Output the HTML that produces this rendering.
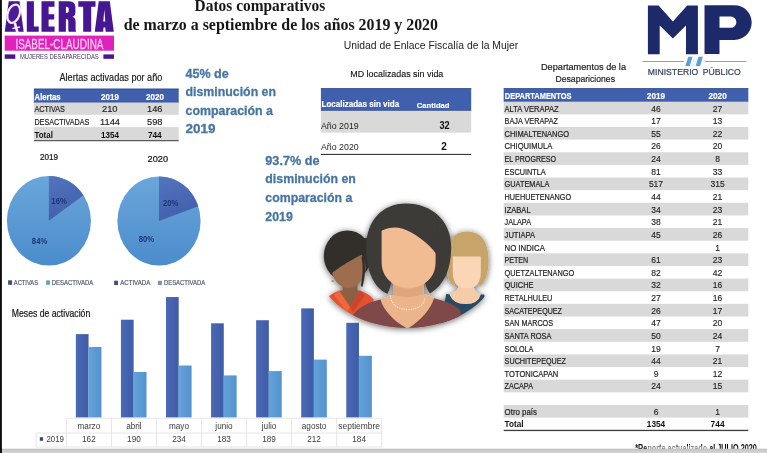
<!DOCTYPE html>
<html lang="es"><head><meta charset="utf-8"><title>Alerta Isabel-Claudina - Datos comparativos</title>
<style>
html,body{margin:0;padding:0;background:#fff;overflow:hidden}
body{width:767px;height:453px;font-family:"Liberation Sans",sans-serif}
svg{display:block;position:absolute;left:0;top:0}
text{white-space:pre}
</style></head><body>
<svg width="767" height="453" viewBox="0 0 767 453">
<defs>
<linearGradient id="gd" x1="0" y1="0" x2="1" y2="0"><stop offset="0" stop-color="#4B69B6"/><stop offset="1" stop-color="#3E5CA6"/></linearGradient>
<linearGradient id="gl" x1="0" y1="0" x2="1" y2="0"><stop offset="0" stop-color="#64A2DA"/><stop offset="1" stop-color="#5593CF"/></linearGradient>
<linearGradient id="pl" x1="0" y1="0" x2="0" y2="1"><stop offset="0" stop-color="#6BA6DA"/><stop offset="1" stop-color="#4B8CCC"/></linearGradient>
<clipPath id="wclip"><ellipse cx="407" cy="262.4" rx="91" ry="65.7"/></clipPath>
<filter id="ds" x="-15%" y="-15%" width="130%" height="135%"><feGaussianBlur in="SourceAlpha" stdDeviation="3.2" result="b"/><feOffset in="b" dx="0.3" dy="0.8" result="o"/><feComponentTransfer in="o" result="s"><feFuncA type="linear" slope="0.6"/></feComponentTransfer><feMerge><feMergeNode in="s"/><feMergeNode in="SourceGraphic"/></feMerge></filter>
<filter id="soft" x="-20" y="-20" width="807" height="493" filterUnits="userSpaceOnUse"><feGaussianBlur stdDeviation="0.45"/></filter>
<linearGradient id="pd" x1="0" y1="0" x2="0.3" y2="1"><stop offset="0" stop-color="#5474BD"/><stop offset="1" stop-color="#4260AD"/></linearGradient>
</defs>
<rect x="-10.00" y="-10.00" width="787.00" height="473.00" fill="#FFFFFF" />
<g filter="url(#soft)">
<g fill="#461593">
<path d="M8.7,1.2 H19.5 L23.7,31.8 H4.8 Z"/>
<path d="M26.8,1.2 H33.9 V26.6 H38.7 V31.8 H26.8 Z"/>
<path d="M41.5,1.2 H54.5 V6.8 H48.6 V14.3 H54.2 V19.5 H48.6 V26.6 H54.6 V31.8 H41.5 Z"/>
<path d="M58.7,1.2 H69 Q75.4,1.2 75.4,7.5 V12 Q75.4,16 72.5,16.8 Q75.6,17.8 75.6,22 V28.5 Q75.6,30.5 76,31.8 H68.6 Q68.3,30.5 68.3,28.5 V21.5 Q68.3,18.7 65.9,18.7 V31.8 H58.7 Z M65.9,6.7 V13.1 Q68.7,13.1 68.7,11 V8.8 Q68.7,6.7 65.9,6.7 Z" fill-rule="evenodd"/>
<path d="M78.3,1.2 H95.5 V6.8 H91.2 V31.8 H83.2 V6.8 H78.3 Z"/>
<path d="M98.7,1.2 H109.8 L113.8,31.8 H105.6 L105.3,27.4 H103.5 L103.2,31.8 H94.8 Z M103.3,21.4 H105.3 L104.3,9.5 Z" fill-rule="evenodd"/>
</g>
<g fill="none" stroke="#FBEAFB" stroke-linecap="butt"><ellipse cx="13.7" cy="13.7" rx="5.9" ry="9.5" stroke-width="2.2" fill="#4A1D9C" transform="rotate(20 13.7 13.7)"/><path d="M14.8,22.8 L17.4,32.3" stroke-width="2.6"/><path d="M12.4,28.6 L20,27" stroke-width="1.5"/></g>
<rect x="4.70" y="35.60" width="109.30" height="15.10" fill="#E024BA" />
<text x="15.40" y="48.80" font-size="14.4" fill="#FBC9F0" font-family="'Liberation Sans', sans-serif" textLength="88.00" lengthAdjust="spacingAndGlyphs" stroke="#FBC9F0" stroke-width="0.3">ISABEL-CLAUDINA</text>
<rect x="4.70" y="54.40" width="10.60" height="4.40" fill="#461593" />
<rect x="103.40" y="54.40" width="10.60" height="4.40" fill="#461593" />
<text x="20.00" y="58.80" font-size="7.0" fill="#3E3360" font-family="'Liberation Sans', sans-serif" textLength="78.70" lengthAdjust="spacingAndGlyphs">MUJERES DESAPARECIDAS</text>
<text x="194.60" y="10.70" font-size="15.8" fill="#161616" font-family="'Liberation Serif', serif" font-weight="bold" textLength="130.60" lengthAdjust="spacingAndGlyphs">Datos comparativos</text>
<text x="123.70" y="29.50" font-size="16" fill="#161616" font-family="'Liberation Serif', serif" font-weight="bold" textLength="314.30" lengthAdjust="spacingAndGlyphs">de marzo a septiembre de los años 2019 y 2020</text>
<text x="343.70" y="49.30" font-size="11.4" fill="#222" font-family="'Liberation Sans', sans-serif" textLength="174.60" lengthAdjust="spacingAndGlyphs">Unidad de Enlace Fiscalía de la Mujer</text>
<g fill="#1F2A6B">
<path d="M647.9,5.4 H658.6 L672.9,21.5 L687.2,5.4 H697.9 V54.3 H686 V25.5 L672.9,38.6 L659.7,25.5 V54.3 H647.9 Z"/>
<path d="M704.5,5.3 H734.4 A17.3,17.3 0 0 1 734.4,39.9 H719.5 V53.9 H704.5 Z M719.5,16.6 V27.8 H730.8 A5.6,5.6 0 0 0 730.8,16.6 Z" fill-rule="evenodd"/>
</g>
<path d="M642.3,61.5 H684 M704.8,61.5 H746.3" stroke="#86A6C8" stroke-width="1.0" fill="none"/>
<path d="M688.3,56.7 H692.6 L689.8,66 H685.4 Z" fill="#5A9FD8"/>
<path d="M693.6,56.7 H697.4 L694.6,66 H690.8 Z" fill="#EEF5FB"/>
<path d="M698.5,56.7 H702.9 L700.1,66 H695.7 Z" fill="#5A9FD8"/>
<text x="647.80" y="74.80" font-size="8.8" fill="#333D5E" font-family="'Liberation Sans', sans-serif" textLength="50.50" lengthAdjust="spacingAndGlyphs" stroke="#333D5E" stroke-width="0.2">MINISTERIO</text>
<text x="702.80" y="74.80" font-size="8.8" fill="#333D5E" font-family="'Liberation Sans', sans-serif" textLength="38.00" lengthAdjust="spacingAndGlyphs" stroke="#333D5E" stroke-width="0.2">PÚBLICO</text>
<text x="59.50" y="80.60" font-size="10.1" fill="#151515" font-family="'Liberation Sans', sans-serif" textLength="102.80" lengthAdjust="spacingAndGlyphs" stroke="#151515" stroke-width="0.15">Alertas activadas por año</text>
<rect x="33.90" y="88.70" width="144.80" height="13.90" fill="#4161AE" />
<rect x="33.90" y="88.70" width="144.80" height="0.80" fill="#33498A" />
<rect x="33.90" y="101.80" width="144.80" height="0.80" fill="#33498A" />
<text x="34.60" y="99.60" font-size="8.9" fill="#FFFFFF" font-family="'Liberation Sans', sans-serif" font-weight="bold" textLength="26.00" lengthAdjust="spacingAndGlyphs" stroke="#fff" stroke-width="0.25">Alertas</text>
<text x="110.00" y="99.60" font-size="8.9" fill="#FFFFFF" font-family="'Liberation Sans', sans-serif" font-weight="bold" text-anchor="middle" textLength="17.80" lengthAdjust="spacingAndGlyphs" stroke="#fff" stroke-width="0.2">2019</text>
<text x="155.00" y="99.60" font-size="8.9" fill="#FFFFFF" font-family="'Liberation Sans', sans-serif" font-weight="bold" text-anchor="middle" textLength="17.80" lengthAdjust="spacingAndGlyphs" stroke="#fff" stroke-width="0.2">2020</text>
<rect x="33.90" y="102.60" width="144.80" height="12.20" fill="#D9D9D9" />
<rect x="33.90" y="127.10" width="144.80" height="13.30" fill="#D9D9D9" />
<rect x="33.90" y="140.20" width="144.80" height="1.00" fill="#3A3A3A" />
<text x="34.40" y="112.30" font-size="9.4" fill="#1E1E1E" font-family="'Liberation Sans', sans-serif" textLength="30.50" lengthAdjust="spacingAndGlyphs" stroke="#1E1E1E" stroke-width="0.2">ACTIVAS</text>
<text x="109.80" y="112.30" font-size="9.3" fill="#1E1E1E" font-family="'Liberation Sans', sans-serif" text-anchor="middle" stroke="#1E1E1E" stroke-width="0.15">210</text>
<text x="154.80" y="112.30" font-size="9.3" fill="#1E1E1E" font-family="'Liberation Sans', sans-serif" text-anchor="middle" stroke="#1E1E1E" stroke-width="0.15">146</text>
<text x="34.40" y="124.90" font-size="9.4" fill="#1E1E1E" font-family="'Liberation Sans', sans-serif" textLength="55.00" lengthAdjust="spacingAndGlyphs" stroke="#1E1E1E" stroke-width="0.2">DESACTIVADAS</text>
<text x="110.00" y="124.90" font-size="9.3" fill="#1E1E1E" font-family="'Liberation Sans', sans-serif" text-anchor="middle" stroke="#1E1E1E" stroke-width="0.15">1144</text>
<text x="154.80" y="124.90" font-size="9.3" fill="#1E1E1E" font-family="'Liberation Sans', sans-serif" text-anchor="middle" stroke="#1E1E1E" stroke-width="0.15">598</text>
<text x="34.40" y="138.20" font-size="8.9" fill="#111" font-family="'Liberation Sans', sans-serif" font-weight="bold" textLength="18.50" lengthAdjust="spacingAndGlyphs">Total</text>
<text x="110.00" y="138.20" font-size="8.9" fill="#111" font-family="'Liberation Sans', sans-serif" font-weight="bold" text-anchor="middle" textLength="18.00" lengthAdjust="spacingAndGlyphs">1354</text>
<text x="154.80" y="138.20" font-size="8.9" fill="#111" font-family="'Liberation Sans', sans-serif" font-weight="bold" text-anchor="middle" textLength="13.80" lengthAdjust="spacingAndGlyphs">744</text>
<text x="185.50" y="77.70" font-size="13.2" fill="#4775A3" font-family="'Liberation Sans', sans-serif" font-weight="bold" textLength="43.20" lengthAdjust="spacingAndGlyphs" stroke="#4775A3" stroke-width="0.3">45% de</text>
<text x="185.50" y="96.15" font-size="13.2" fill="#4775A3" font-family="'Liberation Sans', sans-serif" font-weight="bold" textLength="90.50" lengthAdjust="spacingAndGlyphs" stroke="#4775A3" stroke-width="0.3">disminución en</text>
<text x="185.50" y="114.60" font-size="13.2" fill="#4775A3" font-family="'Liberation Sans', sans-serif" font-weight="bold" textLength="87.50" lengthAdjust="spacingAndGlyphs" stroke="#4775A3" stroke-width="0.3">comparación a</text>
<text x="185.50" y="133.05" font-size="13.2" fill="#4775A3" font-family="'Liberation Sans', sans-serif" font-weight="bold" textLength="30.00" lengthAdjust="spacingAndGlyphs" stroke="#4775A3" stroke-width="0.3">2019</text>
<text x="265.30" y="164.90" font-size="13.2" fill="#4775A3" font-family="'Liberation Sans', sans-serif" font-weight="bold" textLength="54.30" lengthAdjust="spacingAndGlyphs" stroke="#4775A3" stroke-width="0.3">93.7% de</text>
<text x="265.30" y="183.45" font-size="13.2" fill="#4775A3" font-family="'Liberation Sans', sans-serif" font-weight="bold" textLength="90.60" lengthAdjust="spacingAndGlyphs" stroke="#4775A3" stroke-width="0.3">disminución en</text>
<text x="265.30" y="202.00" font-size="13.2" fill="#4775A3" font-family="'Liberation Sans', sans-serif" font-weight="bold" textLength="87.10" lengthAdjust="spacingAndGlyphs" stroke="#4775A3" stroke-width="0.3">comparación a</text>
<text x="265.30" y="220.55" font-size="13.2" fill="#4775A3" font-family="'Liberation Sans', sans-serif" font-weight="bold" textLength="27.50" lengthAdjust="spacingAndGlyphs" stroke="#4775A3" stroke-width="0.3">2019</text>
<text x="350.30" y="76.50" font-size="9.7" fill="#151515" font-family="'Liberation Sans', sans-serif" textLength="93.00" lengthAdjust="spacingAndGlyphs" stroke="#151515" stroke-width="0.15">MD localizadas sin vida</text>
<rect x="320.90" y="88.30" width="150.30" height="22.50" fill="#4161AE" />
<rect x="320.90" y="88.30" width="150.30" height="0.80" fill="#33498A" />
<rect x="320.90" y="110.10" width="150.30" height="0.80" fill="#33498A" />
<rect x="320.90" y="110.80" width="150.30" height="21.80" fill="#D9D9D9" />
<rect x="320.90" y="153.90" width="150.30" height="1.00" fill="#222" />
<text x="321.50" y="107.10" font-size="9.5" fill="#FFFFFF" font-family="'Liberation Sans', sans-serif" font-weight="bold" textLength="77.70" lengthAdjust="spacingAndGlyphs" stroke="#fff" stroke-width="0.2">Localizadas sin vida</text>
<text x="416.80" y="107.50" font-size="7.8" fill="#FFFFFF" font-family="'Liberation Sans', sans-serif" font-weight="bold" textLength="32.70" lengthAdjust="spacingAndGlyphs" stroke="#fff" stroke-width="0.15">Cantidad</text>
<text x="321.00" y="128.80" font-size="9" fill="#262626" font-family="'Liberation Sans', sans-serif" textLength="37.70" lengthAdjust="spacingAndGlyphs">Año 2019</text>
<text x="321.00" y="150.10" font-size="9" fill="#262626" font-family="'Liberation Sans', sans-serif" textLength="37.70" lengthAdjust="spacingAndGlyphs">Año 2020</text>
<text x="444.60" y="129.10" font-size="10" fill="#111" font-family="'Liberation Sans', sans-serif" font-weight="bold" text-anchor="middle" textLength="10.20" lengthAdjust="spacingAndGlyphs">32</text>
<text x="444.00" y="150.40" font-size="10" fill="#111" font-family="'Liberation Sans', sans-serif" font-weight="bold" text-anchor="middle">2</text>
<text x="541.00" y="70.00" font-size="9.6" fill="#1C1C1C" font-family="'Liberation Sans', sans-serif" textLength="85.00" lengthAdjust="spacingAndGlyphs" stroke="#1C1C1C" stroke-width="0.2">Departamentos de la</text>
<text x="555.50" y="82.00" font-size="9.6" fill="#1C1C1C" font-family="'Liberation Sans', sans-serif" textLength="59.50" lengthAdjust="spacingAndGlyphs" stroke="#1C1C1C" stroke-width="0.2">Desapariciones</text>
<rect x="503.70" y="88.30" width="244.60" height="13.30" fill="#4161AE" />
<rect x="503.70" y="88.30" width="244.60" height="0.80" fill="#33498A" />
<rect x="503.70" y="100.90" width="244.60" height="0.80" fill="#33498A" />
<text x="504.80" y="99.10" font-size="8.9" fill="#FFFFFF" font-family="'Liberation Sans', sans-serif" font-weight="bold" textLength="66.60" lengthAdjust="spacingAndGlyphs" stroke="#fff" stroke-width="0.2">DEPARTAMENTOS</text>
<text x="656.00" y="99.20" font-size="9" fill="#FFFFFF" font-family="'Liberation Sans', sans-serif" font-weight="bold" text-anchor="middle" textLength="18.30" lengthAdjust="spacingAndGlyphs" stroke="#fff" stroke-width="0.2">2019</text>
<text x="717.60" y="99.20" font-size="9" fill="#FFFFFF" font-family="'Liberation Sans', sans-serif" font-weight="bold" text-anchor="middle" textLength="18.30" lengthAdjust="spacingAndGlyphs" stroke="#fff" stroke-width="0.2">2020</text>
<rect x="503.70" y="101.70" width="244.60" height="12.64" fill="#D9D9D9" />
<rect x="503.70" y="126.97" width="244.60" height="12.64" fill="#D9D9D9" />
<rect x="503.70" y="152.24" width="244.60" height="12.64" fill="#D9D9D9" />
<rect x="503.70" y="177.52" width="244.60" height="12.64" fill="#D9D9D9" />
<rect x="503.70" y="202.79" width="244.60" height="12.64" fill="#D9D9D9" />
<rect x="503.70" y="228.06" width="244.60" height="12.64" fill="#D9D9D9" />
<rect x="503.70" y="253.33" width="244.60" height="12.64" fill="#D9D9D9" />
<rect x="503.70" y="278.60" width="244.60" height="12.64" fill="#D9D9D9" />
<rect x="503.70" y="303.88" width="244.60" height="12.64" fill="#D9D9D9" />
<rect x="503.70" y="329.15" width="244.60" height="12.64" fill="#D9D9D9" />
<rect x="503.70" y="354.42" width="244.60" height="12.64" fill="#D9D9D9" />
<rect x="503.70" y="379.69" width="244.60" height="12.64" fill="#D9D9D9" />
<rect x="503.70" y="404.96" width="244.60" height="12.64" fill="#D9D9D9" />
<text x="504.60" y="111.50" font-size="9.5" fill="#1E1E1E" font-family="'Liberation Sans', sans-serif" textLength="54.01" lengthAdjust="spacingAndGlyphs" stroke="#1E1E1E" stroke-width="0.22">ALTA VERAPAZ</text>
<text x="656.00" y="111.50" font-size="9.3" fill="#1E1E1E" font-family="'Liberation Sans', sans-serif" text-anchor="middle" textLength="9.50" lengthAdjust="spacingAndGlyphs" stroke="#1E1E1E" stroke-width="0.15">46</text>
<text x="717.60" y="111.50" font-size="9.3" fill="#1E1E1E" font-family="'Liberation Sans', sans-serif" text-anchor="middle" textLength="9.50" lengthAdjust="spacingAndGlyphs" stroke="#1E1E1E" stroke-width="0.15">27</text>
<text x="504.60" y="124.14" font-size="9.5" fill="#1E1E1E" font-family="'Liberation Sans', sans-serif" textLength="53.39" lengthAdjust="spacingAndGlyphs" stroke="#1E1E1E" stroke-width="0.22">BAJA VERAPAZ</text>
<text x="656.00" y="124.14" font-size="9.3" fill="#1E1E1E" font-family="'Liberation Sans', sans-serif" text-anchor="middle" textLength="9.50" lengthAdjust="spacingAndGlyphs" stroke="#1E1E1E" stroke-width="0.15">17</text>
<text x="717.60" y="124.14" font-size="9.3" fill="#1E1E1E" font-family="'Liberation Sans', sans-serif" text-anchor="middle" textLength="9.50" lengthAdjust="spacingAndGlyphs" stroke="#1E1E1E" stroke-width="0.15">13</text>
<text x="504.60" y="136.77" font-size="9.5" fill="#1E1E1E" font-family="'Liberation Sans', sans-serif" textLength="64.41" lengthAdjust="spacingAndGlyphs" stroke="#1E1E1E" stroke-width="0.22">CHIMALTENANGO</text>
<text x="656.00" y="136.77" font-size="9.3" fill="#1E1E1E" font-family="'Liberation Sans', sans-serif" text-anchor="middle" textLength="9.50" lengthAdjust="spacingAndGlyphs" stroke="#1E1E1E" stroke-width="0.15">55</text>
<text x="717.60" y="136.77" font-size="9.3" fill="#1E1E1E" font-family="'Liberation Sans', sans-serif" text-anchor="middle" textLength="9.50" lengthAdjust="spacingAndGlyphs" stroke="#1E1E1E" stroke-width="0.15">22</text>
<text x="504.60" y="149.41" font-size="9.5" fill="#1E1E1E" font-family="'Liberation Sans', sans-serif" textLength="47.76" lengthAdjust="spacingAndGlyphs" stroke="#1E1E1E" stroke-width="0.22">CHIQUIMULA</text>
<text x="656.00" y="149.41" font-size="9.3" fill="#1E1E1E" font-family="'Liberation Sans', sans-serif" text-anchor="middle" textLength="9.50" lengthAdjust="spacingAndGlyphs" stroke="#1E1E1E" stroke-width="0.15">26</text>
<text x="717.60" y="149.41" font-size="9.3" fill="#1E1E1E" font-family="'Liberation Sans', sans-serif" text-anchor="middle" textLength="9.50" lengthAdjust="spacingAndGlyphs" stroke="#1E1E1E" stroke-width="0.15">20</text>
<text x="504.60" y="162.04" font-size="9.5" fill="#1E1E1E" font-family="'Liberation Sans', sans-serif" textLength="51.44" lengthAdjust="spacingAndGlyphs" stroke="#1E1E1E" stroke-width="0.22">EL PROGRESO</text>
<text x="656.00" y="162.04" font-size="9.3" fill="#1E1E1E" font-family="'Liberation Sans', sans-serif" text-anchor="middle" textLength="9.50" lengthAdjust="spacingAndGlyphs" stroke="#1E1E1E" stroke-width="0.15">24</text>
<text x="717.60" y="162.04" font-size="9.3" fill="#1E1E1E" font-family="'Liberation Sans', sans-serif" text-anchor="middle" textLength="4.75" lengthAdjust="spacingAndGlyphs" stroke="#1E1E1E" stroke-width="0.15">8</text>
<text x="504.60" y="174.68" font-size="9.5" fill="#1E1E1E" font-family="'Liberation Sans', sans-serif" textLength="41.18" lengthAdjust="spacingAndGlyphs" stroke="#1E1E1E" stroke-width="0.22">ESCUINTLA</text>
<text x="656.00" y="174.68" font-size="9.3" fill="#1E1E1E" font-family="'Liberation Sans', sans-serif" text-anchor="middle" textLength="9.50" lengthAdjust="spacingAndGlyphs" stroke="#1E1E1E" stroke-width="0.15">81</text>
<text x="717.60" y="174.68" font-size="9.3" fill="#1E1E1E" font-family="'Liberation Sans', sans-serif" text-anchor="middle" textLength="9.50" lengthAdjust="spacingAndGlyphs" stroke="#1E1E1E" stroke-width="0.15">33</text>
<text x="504.60" y="187.32" font-size="9.5" fill="#1E1E1E" font-family="'Liberation Sans', sans-serif" textLength="44.74" lengthAdjust="spacingAndGlyphs" stroke="#1E1E1E" stroke-width="0.22">GUATEMALA</text>
<text x="656.00" y="187.32" font-size="9.3" fill="#1E1E1E" font-family="'Liberation Sans', sans-serif" text-anchor="middle" textLength="14.25" lengthAdjust="spacingAndGlyphs" stroke="#1E1E1E" stroke-width="0.15">517</text>
<text x="717.60" y="187.32" font-size="9.3" fill="#1E1E1E" font-family="'Liberation Sans', sans-serif" text-anchor="middle" textLength="14.25" lengthAdjust="spacingAndGlyphs" stroke="#1E1E1E" stroke-width="0.15">315</text>
<text x="504.60" y="199.95" font-size="9.5" fill="#1E1E1E" font-family="'Liberation Sans', sans-serif" textLength="66.56" lengthAdjust="spacingAndGlyphs" stroke="#1E1E1E" stroke-width="0.22">HUEHUETENANGO</text>
<text x="656.00" y="199.95" font-size="9.3" fill="#1E1E1E" font-family="'Liberation Sans', sans-serif" text-anchor="middle" textLength="9.50" lengthAdjust="spacingAndGlyphs" stroke="#1E1E1E" stroke-width="0.15">44</text>
<text x="717.60" y="199.95" font-size="9.3" fill="#1E1E1E" font-family="'Liberation Sans', sans-serif" text-anchor="middle" textLength="9.50" lengthAdjust="spacingAndGlyphs" stroke="#1E1E1E" stroke-width="0.15">21</text>
<text x="504.60" y="212.59" font-size="9.5" fill="#1E1E1E" font-family="'Liberation Sans', sans-serif" textLength="26.01" lengthAdjust="spacingAndGlyphs" stroke="#1E1E1E" stroke-width="0.22">IZABAL</text>
<text x="656.00" y="212.59" font-size="9.3" fill="#1E1E1E" font-family="'Liberation Sans', sans-serif" text-anchor="middle" textLength="9.50" lengthAdjust="spacingAndGlyphs" stroke="#1E1E1E" stroke-width="0.15">34</text>
<text x="717.60" y="212.59" font-size="9.3" fill="#1E1E1E" font-family="'Liberation Sans', sans-serif" text-anchor="middle" textLength="9.50" lengthAdjust="spacingAndGlyphs" stroke="#1E1E1E" stroke-width="0.15">23</text>
<text x="504.60" y="225.22" font-size="9.5" fill="#1E1E1E" font-family="'Liberation Sans', sans-serif" textLength="26.39" lengthAdjust="spacingAndGlyphs" stroke="#1E1E1E" stroke-width="0.22">JALAPA</text>
<text x="656.00" y="225.22" font-size="9.3" fill="#1E1E1E" font-family="'Liberation Sans', sans-serif" text-anchor="middle" textLength="9.50" lengthAdjust="spacingAndGlyphs" stroke="#1E1E1E" stroke-width="0.15">38</text>
<text x="717.60" y="225.22" font-size="9.3" fill="#1E1E1E" font-family="'Liberation Sans', sans-serif" text-anchor="middle" textLength="9.50" lengthAdjust="spacingAndGlyphs" stroke="#1E1E1E" stroke-width="0.15">21</text>
<text x="504.60" y="237.86" font-size="9.5" fill="#1E1E1E" font-family="'Liberation Sans', sans-serif" textLength="30.55" lengthAdjust="spacingAndGlyphs" stroke="#1E1E1E" stroke-width="0.22">JUTIAPA</text>
<text x="656.00" y="237.86" font-size="9.3" fill="#1E1E1E" font-family="'Liberation Sans', sans-serif" text-anchor="middle" textLength="9.50" lengthAdjust="spacingAndGlyphs" stroke="#1E1E1E" stroke-width="0.15">45</text>
<text x="717.60" y="237.86" font-size="9.3" fill="#1E1E1E" font-family="'Liberation Sans', sans-serif" text-anchor="middle" textLength="9.50" lengthAdjust="spacingAndGlyphs" stroke="#1E1E1E" stroke-width="0.15">26</text>
<text x="504.60" y="250.50" font-size="9.5" fill="#1E1E1E" font-family="'Liberation Sans', sans-serif" textLength="40.24" lengthAdjust="spacingAndGlyphs" stroke="#1E1E1E" stroke-width="0.22">NO INDICA</text>
<text x="717.60" y="250.50" font-size="9.3" fill="#1E1E1E" font-family="'Liberation Sans', sans-serif" text-anchor="middle" textLength="4.75" lengthAdjust="spacingAndGlyphs" stroke="#1E1E1E" stroke-width="0.15">1</text>
<text x="504.60" y="263.13" font-size="9.5" fill="#1E1E1E" font-family="'Liberation Sans', sans-serif" textLength="23.63" lengthAdjust="spacingAndGlyphs" stroke="#1E1E1E" stroke-width="0.22">PETEN</text>
<text x="656.00" y="263.13" font-size="9.3" fill="#1E1E1E" font-family="'Liberation Sans', sans-serif" text-anchor="middle" textLength="9.50" lengthAdjust="spacingAndGlyphs" stroke="#1E1E1E" stroke-width="0.15">61</text>
<text x="717.60" y="263.13" font-size="9.3" fill="#1E1E1E" font-family="'Liberation Sans', sans-serif" text-anchor="middle" textLength="9.50" lengthAdjust="spacingAndGlyphs" stroke="#1E1E1E" stroke-width="0.15">23</text>
<text x="504.60" y="275.77" font-size="9.5" fill="#1E1E1E" font-family="'Liberation Sans', sans-serif" textLength="69.65" lengthAdjust="spacingAndGlyphs" stroke="#1E1E1E" stroke-width="0.22">QUETZALTENANGO</text>
<text x="656.00" y="275.77" font-size="9.3" fill="#1E1E1E" font-family="'Liberation Sans', sans-serif" text-anchor="middle" textLength="9.50" lengthAdjust="spacingAndGlyphs" stroke="#1E1E1E" stroke-width="0.15">82</text>
<text x="717.60" y="275.77" font-size="9.3" fill="#1E1E1E" font-family="'Liberation Sans', sans-serif" text-anchor="middle" textLength="9.50" lengthAdjust="spacingAndGlyphs" stroke="#1E1E1E" stroke-width="0.15">42</text>
<text x="504.60" y="288.40" font-size="9.5" fill="#1E1E1E" font-family="'Liberation Sans', sans-serif" textLength="28.88" lengthAdjust="spacingAndGlyphs" stroke="#1E1E1E" stroke-width="0.22">QUICHE</text>
<text x="656.00" y="288.40" font-size="9.3" fill="#1E1E1E" font-family="'Liberation Sans', sans-serif" text-anchor="middle" textLength="9.50" lengthAdjust="spacingAndGlyphs" stroke="#1E1E1E" stroke-width="0.15">32</text>
<text x="717.60" y="288.40" font-size="9.3" fill="#1E1E1E" font-family="'Liberation Sans', sans-serif" text-anchor="middle" textLength="9.50" lengthAdjust="spacingAndGlyphs" stroke="#1E1E1E" stroke-width="0.15">16</text>
<text x="504.60" y="301.04" font-size="9.5" fill="#1E1E1E" font-family="'Liberation Sans', sans-serif" textLength="47.75" lengthAdjust="spacingAndGlyphs" stroke="#1E1E1E" stroke-width="0.22">RETALHULEU</text>
<text x="656.00" y="301.04" font-size="9.3" fill="#1E1E1E" font-family="'Liberation Sans', sans-serif" text-anchor="middle" textLength="9.50" lengthAdjust="spacingAndGlyphs" stroke="#1E1E1E" stroke-width="0.15">27</text>
<text x="717.60" y="301.04" font-size="9.3" fill="#1E1E1E" font-family="'Liberation Sans', sans-serif" text-anchor="middle" textLength="9.50" lengthAdjust="spacingAndGlyphs" stroke="#1E1E1E" stroke-width="0.15">16</text>
<text x="504.60" y="313.68" font-size="9.5" fill="#1E1E1E" font-family="'Liberation Sans', sans-serif" textLength="57.36" lengthAdjust="spacingAndGlyphs" stroke="#1E1E1E" stroke-width="0.22">SACATEPEQUEZ</text>
<text x="656.00" y="313.68" font-size="9.3" fill="#1E1E1E" font-family="'Liberation Sans', sans-serif" text-anchor="middle" textLength="9.50" lengthAdjust="spacingAndGlyphs" stroke="#1E1E1E" stroke-width="0.15">26</text>
<text x="717.60" y="313.68" font-size="9.3" fill="#1E1E1E" font-family="'Liberation Sans', sans-serif" text-anchor="middle" textLength="9.50" lengthAdjust="spacingAndGlyphs" stroke="#1E1E1E" stroke-width="0.15">17</text>
<text x="504.60" y="326.31" font-size="9.5" fill="#1E1E1E" font-family="'Liberation Sans', sans-serif" textLength="48.44" lengthAdjust="spacingAndGlyphs" stroke="#1E1E1E" stroke-width="0.22">SAN MARCOS</text>
<text x="656.00" y="326.31" font-size="9.3" fill="#1E1E1E" font-family="'Liberation Sans', sans-serif" text-anchor="middle" textLength="9.50" lengthAdjust="spacingAndGlyphs" stroke="#1E1E1E" stroke-width="0.15">47</text>
<text x="717.60" y="326.31" font-size="9.3" fill="#1E1E1E" font-family="'Liberation Sans', sans-serif" text-anchor="middle" textLength="9.50" lengthAdjust="spacingAndGlyphs" stroke="#1E1E1E" stroke-width="0.15">20</text>
<text x="504.60" y="338.95" font-size="9.5" fill="#1E1E1E" font-family="'Liberation Sans', sans-serif" textLength="46.92" lengthAdjust="spacingAndGlyphs" stroke="#1E1E1E" stroke-width="0.22">SANTA ROSA</text>
<text x="656.00" y="338.95" font-size="9.3" fill="#1E1E1E" font-family="'Liberation Sans', sans-serif" text-anchor="middle" textLength="9.50" lengthAdjust="spacingAndGlyphs" stroke="#1E1E1E" stroke-width="0.15">50</text>
<text x="717.60" y="338.95" font-size="9.3" fill="#1E1E1E" font-family="'Liberation Sans', sans-serif" text-anchor="middle" textLength="9.50" lengthAdjust="spacingAndGlyphs" stroke="#1E1E1E" stroke-width="0.15">24</text>
<text x="504.60" y="351.58" font-size="9.5" fill="#1E1E1E" font-family="'Liberation Sans', sans-serif" textLength="28.84" lengthAdjust="spacingAndGlyphs" stroke="#1E1E1E" stroke-width="0.22">SOLOLA</text>
<text x="656.00" y="351.58" font-size="9.3" fill="#1E1E1E" font-family="'Liberation Sans', sans-serif" text-anchor="middle" textLength="9.50" lengthAdjust="spacingAndGlyphs" stroke="#1E1E1E" stroke-width="0.15">19</text>
<text x="717.60" y="351.58" font-size="9.3" fill="#1E1E1E" font-family="'Liberation Sans', sans-serif" text-anchor="middle" textLength="4.75" lengthAdjust="spacingAndGlyphs" stroke="#1E1E1E" stroke-width="0.15">7</text>
<text x="504.60" y="364.22" font-size="9.5" fill="#1E1E1E" font-family="'Liberation Sans', sans-serif" textLength="61.43" lengthAdjust="spacingAndGlyphs" stroke="#1E1E1E" stroke-width="0.22">SUCHITEPEQUEZ</text>
<text x="656.00" y="364.22" font-size="9.3" fill="#1E1E1E" font-family="'Liberation Sans', sans-serif" text-anchor="middle" textLength="9.50" lengthAdjust="spacingAndGlyphs" stroke="#1E1E1E" stroke-width="0.15">44</text>
<text x="717.60" y="364.22" font-size="9.3" fill="#1E1E1E" font-family="'Liberation Sans', sans-serif" text-anchor="middle" textLength="9.50" lengthAdjust="spacingAndGlyphs" stroke="#1E1E1E" stroke-width="0.15">21</text>
<text x="504.60" y="376.86" font-size="9.5" fill="#1E1E1E" font-family="'Liberation Sans', sans-serif" textLength="53.68" lengthAdjust="spacingAndGlyphs" stroke="#1E1E1E" stroke-width="0.22">TOTONICAPAN</text>
<text x="656.00" y="376.86" font-size="9.3" fill="#1E1E1E" font-family="'Liberation Sans', sans-serif" text-anchor="middle" textLength="4.75" lengthAdjust="spacingAndGlyphs" stroke="#1E1E1E" stroke-width="0.15">9</text>
<text x="717.60" y="376.86" font-size="9.3" fill="#1E1E1E" font-family="'Liberation Sans', sans-serif" text-anchor="middle" textLength="9.50" lengthAdjust="spacingAndGlyphs" stroke="#1E1E1E" stroke-width="0.15">12</text>
<text x="504.60" y="389.49" font-size="9.5" fill="#1E1E1E" font-family="'Liberation Sans', sans-serif" textLength="28.37" lengthAdjust="spacingAndGlyphs" stroke="#1E1E1E" stroke-width="0.22">ZACAPA</text>
<text x="656.00" y="389.49" font-size="9.3" fill="#1E1E1E" font-family="'Liberation Sans', sans-serif" text-anchor="middle" textLength="9.50" lengthAdjust="spacingAndGlyphs" stroke="#1E1E1E" stroke-width="0.15">24</text>
<text x="717.60" y="389.49" font-size="9.3" fill="#1E1E1E" font-family="'Liberation Sans', sans-serif" text-anchor="middle" textLength="9.50" lengthAdjust="spacingAndGlyphs" stroke="#1E1E1E" stroke-width="0.15">15</text>
<text x="504.60" y="414.76" font-size="9.5" fill="#1E1E1E" font-family="'Liberation Sans', sans-serif" textLength="32.41" lengthAdjust="spacingAndGlyphs" stroke="#1E1E1E" stroke-width="0.22">Otro país</text>
<text x="656.00" y="414.76" font-size="9.3" fill="#1E1E1E" font-family="'Liberation Sans', sans-serif" text-anchor="middle" textLength="4.75" lengthAdjust="spacingAndGlyphs" stroke="#1E1E1E" stroke-width="0.15">6</text>
<text x="717.60" y="414.76" font-size="9.3" fill="#1E1E1E" font-family="'Liberation Sans', sans-serif" text-anchor="middle" textLength="4.75" lengthAdjust="spacingAndGlyphs" stroke="#1E1E1E" stroke-width="0.15">1</text>
<text x="504.60" y="427.40" font-size="9.0" fill="#111" font-family="'Liberation Sans', sans-serif" font-weight="bold" textLength="19.00" lengthAdjust="spacingAndGlyphs">Total</text>
<text x="656.00" y="427.40" font-size="9.0" fill="#111" font-family="'Liberation Sans', sans-serif" font-weight="bold" text-anchor="middle" textLength="18.40" lengthAdjust="spacingAndGlyphs">1354</text>
<text x="717.60" y="427.40" font-size="9.0" fill="#111" font-family="'Liberation Sans', sans-serif" font-weight="bold" text-anchor="middle" textLength="14.00" lengthAdjust="spacingAndGlyphs">744</text>
<rect x="503.70" y="429.80" width="244.60" height="1.30" fill="#3C3C3C" />
<ellipse cx="48.9" cy="220.75" rx="42.0" ry="44.85" fill="url(#pl)"/>
<path d="M48.9,220.75 L48.9,175.9 A42.0,44.85 0 0 1 83.49,195.31 Z" fill="url(#pd)"/>
<ellipse cx="159.0" cy="221.0" rx="41.6" ry="44.6" fill="url(#pl)"/>
<path d="M159.0,221.0 L159.0,176.4 A41.6,44.6 0 0 1 198.23,206.16 Z" fill="url(#pd)"/>
<text x="59.10" y="203.80" font-size="8.3" fill="#1E3676" font-family="'Liberation Sans', sans-serif" font-weight="bold" text-anchor="middle" textLength="15.50" lengthAdjust="spacingAndGlyphs">16%</text>
<text x="39.60" y="243.80" font-size="8.3" fill="#1E3676" font-family="'Liberation Sans', sans-serif" font-weight="bold" text-anchor="middle" textLength="15.50" lengthAdjust="spacingAndGlyphs">84%</text>
<text x="170.60" y="205.50" font-size="8.3" fill="#1E3676" font-family="'Liberation Sans', sans-serif" font-weight="bold" text-anchor="middle" textLength="15.30" lengthAdjust="spacingAndGlyphs">20%</text>
<text x="146.50" y="241.80" font-size="8.3" fill="#1E3676" font-family="'Liberation Sans', sans-serif" font-weight="bold" text-anchor="middle" textLength="15.50" lengthAdjust="spacingAndGlyphs">80%</text>
<text x="40.00" y="159.60" font-size="8.6" fill="#151515" font-family="'Liberation Sans', sans-serif" textLength="18.00" lengthAdjust="spacingAndGlyphs" stroke="#151515" stroke-width="0.22">2019</text>
<text x="147.60" y="161.50" font-size="8.6" fill="#151515" font-family="'Liberation Sans', sans-serif" textLength="20.40" lengthAdjust="spacingAndGlyphs" stroke="#151515" stroke-width="0.22">2020</text>
<rect x="8.10" y="280.30" width="4.00" height="4.50" fill="#454F7C" />
<text x="13.80" y="284.80" font-size="7.1" fill="#4C566C" font-family="'Liberation Sans', sans-serif" textLength="24.20" lengthAdjust="spacingAndGlyphs" stroke="#4C566C" stroke-width="0.18">ACTIVAS</text>
<rect x="46.10" y="280.40" width="3.80" height="4.40" fill="#62A0AE" />
<text x="51.80" y="284.80" font-size="7.1" fill="#4C566C" font-family="'Liberation Sans', sans-serif" textLength="41.50" lengthAdjust="spacingAndGlyphs" stroke="#4C566C" stroke-width="0.18">DESACTIVADA</text>
<rect x="114.10" y="280.70" width="3.90" height="4.40" fill="#454F7C" />
<text x="120.20" y="285.10" font-size="7.1" fill="#4C566C" font-family="'Liberation Sans', sans-serif" textLength="30.10" lengthAdjust="spacingAndGlyphs" stroke="#4C566C" stroke-width="0.18">ACTIVADA</text>
<rect x="157.90" y="280.80" width="4.00" height="4.30" fill="#7A90B6" />
<text x="163.90" y="285.10" font-size="7.1" fill="#4C566C" font-family="'Liberation Sans', sans-serif" textLength="41.40" lengthAdjust="spacingAndGlyphs" stroke="#4C566C" stroke-width="0.18">DESACTIVADA</text>
<text x="11.80" y="317.00" font-size="10.4" fill="#141414" font-family="'Liberation Sans', sans-serif" textLength="78.40" lengthAdjust="spacingAndGlyphs" stroke="#141414" stroke-width="0.2">Meses de activación</text>
<rect x="75.85" y="334.12" width="12.70" height="83.38" fill="url(#gd)" />
<rect x="88.45" y="347.00" width="13.00" height="70.50" fill="url(#gl)" />
<rect x="120.92" y="319.71" width="12.70" height="97.79" fill="url(#gd)" />
<rect x="133.52" y="372.00" width="13.00" height="45.50" fill="url(#gl)" />
<rect x="165.99" y="297.06" width="12.70" height="120.44" fill="url(#gd)" />
<rect x="178.59" y="365.50" width="13.00" height="52.00" fill="url(#gl)" />
<rect x="211.06" y="323.31" width="12.70" height="94.19" fill="url(#gd)" />
<rect x="223.66" y="375.40" width="13.00" height="42.10" fill="url(#gl)" />
<rect x="256.13" y="320.22" width="12.70" height="97.28" fill="url(#gd)" />
<rect x="268.73" y="371.10" width="13.00" height="46.40" fill="url(#gl)" />
<rect x="301.20" y="308.38" width="12.70" height="109.12" fill="url(#gd)" />
<rect x="313.80" y="359.60" width="13.00" height="57.90" fill="url(#gl)" />
<rect x="346.27" y="322.80" width="12.70" height="94.70" fill="url(#gd)" />
<rect x="358.87" y="355.80" width="13.00" height="61.70" fill="url(#gl)" />
<g stroke="#E0E0E0" stroke-width="0.8" fill="none">
<path d="M66.40,418.2 V447"/>
<path d="M111.44,418.2 V447"/>
<path d="M156.48,418.2 V447"/>
<path d="M201.52,418.2 V447"/>
<path d="M246.56,418.2 V447"/>
<path d="M291.60,418.2 V447"/>
<path d="M336.64,418.2 V447"/>
<path d="M381.68,418.2 V447"/>
<path d="M66.40,418.2 H381.68"/>
<path d="M36,433 H381.68 M36,447 H381.68 M36,433 V447"/>
</g>
<text x="88.90" y="428.60" font-size="8.2" fill="#3A3A3A" font-family="'Liberation Sans', sans-serif" text-anchor="middle">marzo</text>
<text x="88.90" y="442.40" font-size="8.2" fill="#3A3A3A" font-family="'Liberation Sans', sans-serif" text-anchor="middle">162</text>
<text x="133.94" y="428.60" font-size="8.2" fill="#3A3A3A" font-family="'Liberation Sans', sans-serif" text-anchor="middle">abril</text>
<text x="133.94" y="442.40" font-size="8.2" fill="#3A3A3A" font-family="'Liberation Sans', sans-serif" text-anchor="middle">190</text>
<text x="178.98" y="428.60" font-size="8.2" fill="#3A3A3A" font-family="'Liberation Sans', sans-serif" text-anchor="middle">mayo</text>
<text x="178.98" y="442.40" font-size="8.2" fill="#3A3A3A" font-family="'Liberation Sans', sans-serif" text-anchor="middle">234</text>
<text x="224.02" y="428.60" font-size="8.2" fill="#3A3A3A" font-family="'Liberation Sans', sans-serif" text-anchor="middle">junio</text>
<text x="224.02" y="442.40" font-size="8.2" fill="#3A3A3A" font-family="'Liberation Sans', sans-serif" text-anchor="middle">183</text>
<text x="269.06" y="428.60" font-size="8.2" fill="#3A3A3A" font-family="'Liberation Sans', sans-serif" text-anchor="middle">julio</text>
<text x="269.06" y="442.40" font-size="8.2" fill="#3A3A3A" font-family="'Liberation Sans', sans-serif" text-anchor="middle">189</text>
<text x="314.10" y="428.60" font-size="8.2" fill="#3A3A3A" font-family="'Liberation Sans', sans-serif" text-anchor="middle">agosto</text>
<text x="314.10" y="442.40" font-size="8.2" fill="#3A3A3A" font-family="'Liberation Sans', sans-serif" text-anchor="middle">212</text>
<text x="359.14" y="428.60" font-size="8.2" fill="#3A3A3A" font-family="'Liberation Sans', sans-serif" text-anchor="middle" textLength="41.50" lengthAdjust="spacingAndGlyphs">septiembre</text>
<text x="359.14" y="442.40" font-size="8.2" fill="#3A3A3A" font-family="'Liberation Sans', sans-serif" text-anchor="middle">184</text>
<rect x="39.80" y="437.20" width="3.30" height="3.60" fill="#3C4A68" />
<text x="46.40" y="442.20" font-size="8.2" fill="#3A3A3A" font-family="'Liberation Sans', sans-serif" textLength="17.60" lengthAdjust="spacingAndGlyphs">2019</text>
<g filter="url(#ds)"><g clip-path="url(#wclip)">
 <!-- left woman -->
 <ellipse cx="347.4" cy="256" rx="23.6" ry="25.6" fill="#332E2C"/>
 <path d="M318,335 L324,300 Q330,294.5 339,290.5 L350,306 L360,290.5 Q368,293 373.5,299 L372,335 Z" fill="#E0532F"/>
 <path d="M339,290.5 L350,307 L360,290.5 Z" fill="#8C5F44"/>
 <path d="M334,295 L339,290.5 L350,307 L347,312 Z" fill="#F0663C"/>
 <path d="M365,295.5 L360,290.5 L350,307 L353,312 Z" fill="#CB452B"/>
 <rect x="342.5" y="279" width="15" height="14" fill="#8C5F44"/>
 <ellipse cx="348.5" cy="267.5" rx="17" ry="20.5" fill="#9E6D4D"/>
 <path d="M330.5,274 Q346,262 367,252 L368,238 L330,238 Z" fill="#332E2C"/>
 <circle cx="332.6" cy="281" r="1.2" fill="#B8924A"/>
 <path d="M363.5,255 Q367,270 362.5,287 L360.8,286 Q364,270 361.5,257 Z" fill="#332E2C"/>
 <!-- right woman -->
 <path d="M446,262 Q446,231.5 467,231.5 Q488.6,231.5 488.6,262 Q488.6,277 481,286 Q477.5,284 476,279 L458,279 Q456,284 452.5,285.6 Q446,278 446,262 Z" fill="#C7A56B"/>
 <path d="M438,335 L446.3,293.8 L449.6,294.5 Q453,304 466,304 Q478,304 480.7,294.5 L484.2,294.5 L494,335 Z" fill="#2C4964"/>
 <path d="M459,282 Q460,291 449.6,294.5 Q453,304 466,304 Q478,304 480.7,294.5 Q472,291 473.5,282 Z" fill="#F5CCAA"/>
 <path d="M452.8,256.4 H480.8 V272 Q480.8,288.2 466.8,288.2 Q452.8,288.2 452.8,272 Z" fill="#FAD6B6"/>
 <!-- center woman -->
 <path d="M406,203.6 C432,203.6 451.2,221 451.2,247 C451.2,270 444,285 430,293.5 C427,290 425,284 424,278 L392,278 C391,285 389.5,290 387.5,294 C373,287 366.2,270 366.2,247 C366.2,221 382,203.6 406,203.6 Z" fill="#3D3A39"/>
 <path d="M393,275 H423.5 V294 L436,298 L440,335 L372,335 L379,299.5 L393,295 Z" fill="#ECB48A"/>
 <path d="M393,284 Q408,293 423.5,284 V294 Q408,300 393,294.5 Z" fill="#DFA67D"/>
 <path d="M346,340 L353,315 Q360,304.5 380.5,299.5 C383,310 395,322 405.5,327.4 Q407.5,328.4 409.5,327.4 C420,321 431,309 434,298.3 Q453,303 460,310 L467,340 Z" fill="#804849"/>
 <path d="M381.6,227 H435.6 V262 C435.6,278 424,287.5 408.6,287.5 C393.5,287.5 381.6,278 381.6,262 Z" fill="#F1BC92"/>
 <path d="M381,231 C388,227.5 396,226.6 402,228.6 C414,232.5 428,243 436.4,254 L438,222 L381,222 Z" fill="#3D3A39"/>
 <path d="M390.5,296 Q392,309 408,309.6 Q424,309 425,297" fill="none" stroke="#FBE9D8" stroke-width="1.3" stroke-dasharray="0.1 2.2" stroke-linecap="round"/>
</g></g>

<text x="635.30" y="451.90" font-size="10" fill="#111" font-family="'Liberation Sans', sans-serif" font-weight="bold" textLength="121.50" lengthAdjust="spacingAndGlyphs">*Reporte actualizado al JULIO 2020</text>
<rect x="646.50" y="446.30" width="63.50" height="2.60" fill="#FFFFFF" opacity="0.6"/>
<linearGradient id="bb" gradientUnits="userSpaceOnUse" x1="0" y1="448.7" x2="0" y2="453"><stop offset="0" stop-color="#C2C2C2"/><stop offset="1" stop-color="#D6D6D6"/></linearGradient>
<rect x="-10.00" y="448.70" width="787.00" height="14.40" fill="url(#bb)" />
<rect x="-10.00" y="-10.00" width="11.90" height="473.00" fill="#0A0A0A" />
</g>
</svg>
</body></html>
